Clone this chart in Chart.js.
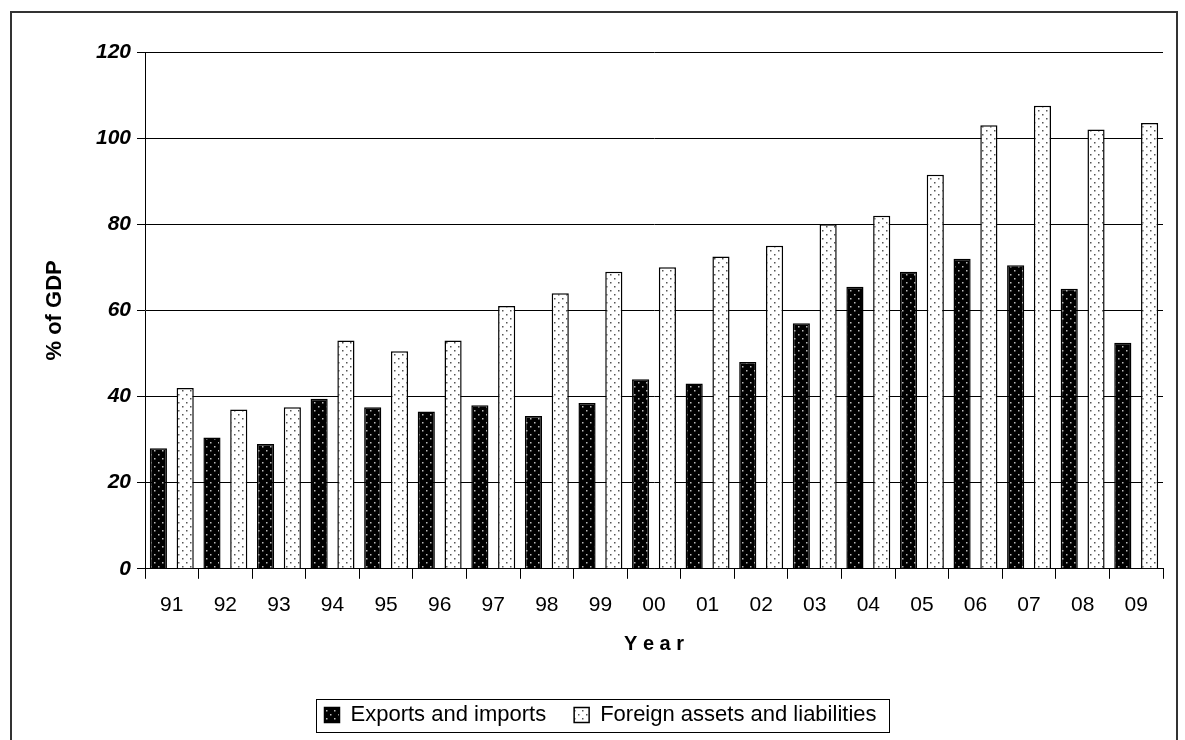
<!DOCTYPE html>
<html><head><meta charset="utf-8">
<script src="https://cdn.jsdelivr.net/npm/chart.js@4/dist/chart.umd.min.js"></script>
<style>
body{margin:0;background:#fff;}
#wrap{position:relative;width:1185px;height:740px;overflow:hidden;}
#frame{position:absolute;left:10px;top:11px;width:1164px;height:760px;border:2px solid #333;}
#lbox{position:absolute;left:316px;top:699px;width:572px;height:32px;border:1.5px solid #000;}
canvas{position:absolute;left:0;top:0;}
</style></head><body>
<div id="wrap"><div id="frame"></div><div id="lbox"></div><canvas id="c" width="1185" height="740"></canvas></div>
<script>
/* ========= DATA ========= */
const years = ['91','92','93','94','95','96','97','98','99','00','01','02','03','04','05','06','07','08','09'];
const trade = [28,30.5,29,39.5,37.5,36.5,38,35.5,38.5,44,43,48,57,65.5,69,72,70.5,65,52.5];
const assets = [42,37,37.5,53,50.5,53,61,64,69,70,72.5,75,80,82,91.5,103,107.5,102,103.5];
const yTicks = [0,20,40,60,80,100,120];

/* ========= HELPERS ========= */
function dots(bg, dot) {
  const p = document.createElement('canvas');
  p.width = 8; p.height = 8;
  const g = p.getContext('2d');
  g.fillStyle = bg; g.fillRect(0, 0, 8, 8);
  g.fillStyle = dot;
  g.fillRect(2, 2, 1.5, 1.5);
  g.fillRect(6, 6, 1.5, 1.5);
  return g.createPattern(p, 'repeat');
}
const ctx = document.getElementById('c').getContext('2d');
const F = 'Arial, "Liberation Sans", sans-serif';

new Chart(ctx, {
  type: 'bar',
  data: {
    labels: years,
    datasets: [
      { label: 'Exports and imports', data: trade, backgroundColor: dots('#000', '#bbb'), borderColor: '#000', borderWidth: 1.5, barPercentage: 0.64, categoryPercentage: 1 },
      { label: 'Foreign assets and liabilities', data: assets, backgroundColor: dots('#fff', '#555'), borderColor: '#000', borderWidth: 1.5, barPercentage: 0.64, categoryPercentage: 1 }
    ]
  },
  options: {
    responsive: false, animation: false,
    layout: { padding: { left: 38, right: 22, top: 52, bottom: 4 } },
    plugins: {
      tooltip: { enabled: false },
      legend: { position: 'bottom', labels: { color: '#000', font: { family: F, size: 22 }, boxWidth: 15, boxHeight: 15, padding: 28 } }
    },
    scales: {
      x: {
        grid: { drawOnChartArea: false, color: '#000', tickLength: 10, offset: true },
        border: { color: '#000' },
        ticks: { color: '#000', font: { family: F, size: 21 }, padding: 14 },
        title: { display: true, text: 'Y e a r', color: '#000', font: { family: F, size: 20, weight: 'bold' }, padding: { top: 0, bottom: 20 } }
      },
      y: {
        min: 0, max: 120,
        afterBuildTicks: s => { s.ticks = yTicks.map(v => ({ value: v })); },
        afterFit: s => { s.width = 107; },
        grid: { color: '#000', tickLength: 8 },
        border: { color: '#000' },
        ticks: { color: '#000', font: { family: F, size: 21, weight: 'bold', style: 'italic' }, padding: 6 },
        title: { display: true, text: '% of GDP', color: '#000', font: { family: F, size: 22, weight: 'bold' } }
      }
    }
  }
});
</script>
</body></html>
